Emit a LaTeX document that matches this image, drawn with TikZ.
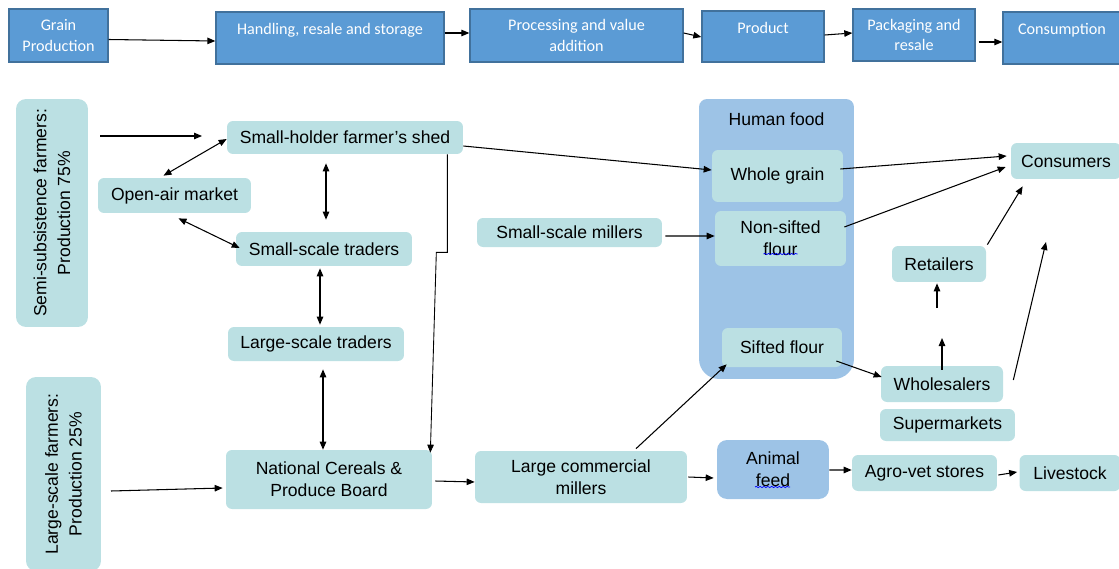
\documentclass[tikz,border=0pt]{standalone}
\usepackage{fontspec}
\setmainfont{Liberation Sans}
\newfontfamily\calibrifont{Carlito}
\usepackage{tikz}
\usetikzlibrary{arrows.meta,calc,decorations.pathmorphing}

\definecolor{topblue}{RGB}{91,155,213}
\definecolor{topedge}{RGB}{65,113,156}
\definecolor{tealbox}{RGB}{187,224,227}
\definecolor{foodblue}{RGB}{157,195,230}

\begin{document}
\begin{tikzpicture}[
  x=0.02cm, y=-0.02cm,
  topbox/.style={draw=topedge, line width=0.8pt, fill=topblue, text=white, align=center, inner sep=0pt, font={\calibrifont\fontsize{9.2}{11.7}\selectfont}},
  oneline/.style={text depth=10pt},
  box/.style={fill=tealbox, rounded corners=0.12cm, align=center, inner sep=0pt, font={\fontsize{10}{12.5}\selectfont}},
  sidebox/.style={box, rotate=90, rounded corners=0.2cm, font={\fontsize{10}{13.5}\selectfont}},
  foodbox/.style={box, fill=foodblue},
  arr/.style={-{Triangle[length=0.16cm,width=0.13cm]}, line width=0.6pt},
  dblarr/.style={{Triangle[length=0.16cm,width=0.13cm]}-{Triangle[length=0.16cm,width=0.13cm]}, line width=0.6pt},
  squiggle/.style={draw=blue, line width=0.4pt, decorate, decoration={snake, amplitude=0.35pt, segment length=2.2pt}}
]
  \useasboundingbox (0,0) rectangle (1119,568);

  % value chain stages
  \node[topbox, minimum width=1.98cm, minimum height=1.06cm] (grain) at (58.5,35.5) {Grain\\Production};
  \node[topbox, oneline, minimum width=4.56cm, minimum height=1.04cm] (handling) at (330,38) {Handling, resale and storage};
  \node[topbox, minimum width=4.26cm, minimum height=1.06cm] (processing) at (576.5,35.5) {Processing and value\\addition};
  \node[topbox, oneline, minimum width=2.44cm, minimum height=1.02cm] (product) at (763,36.5) {Product};
  \node[topbox, minimum width=2.44cm, minimum height=1.04cm] (packaging) at (914,35) {Packaging and\\resale};
  \node[topbox, oneline, minimum width=2.36cm, minimum height=1.04cm] (consumption) at (1062,38) {Consumption};
  \draw[arr] ($(grain.east)+(0,4)$) -- ($(handling.west)+(0,3)$);
  \draw[arr] ($(handling.east)+(0,-5)$) -- ($(processing.west)+(0,-2.5)$);
  \draw[arr] ($(processing.east)+(0,-2.5)$) -- ($(product.west)+(0,0.5)$);
  \draw[arr] ($(product.east)+(0,-1.5)$) -- ($(packaging.west)+(0,-2)$);
  \draw[arr] ($(packaging.east)+(3,7)$) -- ($(consumption.west)+(0,4)$);

  % producers and traders
  \node[sidebox, minimum width=4.56cm, minimum height=1.44cm] (semi) at (52,213) {Semi-subsistence farmers:\\Production 75\%};
  \node[sidebox, minimum width=3.88cm, minimum height=1.5cm] (lfarm) at (63.5,474) {Large-scale farmers:\\Production 25\%};
  \node[box, minimum width=4.72cm, minimum height=0.66cm] (shed) at (345,137.5) {Small-holder farmer's shed};
  \node[box, minimum width=3.06cm, minimum height=0.70cm] (openair) at (174.5,195.5) {Open-air market};
  \node[box, minimum width=3.52cm, minimum height=0.68cm] (sstraders) at (324,249) {Small-scale traders};
  \node[box, minimum width=3.52cm, minimum height=0.68cm] (lstraders) at (316,344) {Large-scale traders};
  \node[box, minimum width=4.12cm, minimum height=1.18cm] (ncpb) at (329,479.5) {National Cereals \&\\Produce Board};

  % millers and products
  \node[box, minimum width=4.24cm, minimum height=1.04cm] (lcmillers) at (581,477) {Large commercial\\millers};
  \node[box, minimum width=3.70cm, minimum height=0.58cm] (ssmillers) at (569.5,232.5) {Small-scale millers};
  \node[foodbox, rounded corners=0.4cm, minimum width=3.10cm, minimum height=5.36cm] (hfbody) at (776.5,245) {};
  \node[foodbox, rounded corners=0.16cm, minimum width=3.10cm, minimum height=0.80cm] (hfhead) at (776.5,119) {Human food};
  \node[box, minimum width=2.62cm, minimum height=1.04cm] (wgrain) at (777.5,176) {Whole grain};
  \node[box, minimum width=2.62cm, minimum height=1.10cm] (nonsifted) at (780.5,238.5) {Non-sifted\\flour};
  \node[box, minimum width=2.40cm, minimum height=0.78cm] (sifted) at (782,347.5) {Sifted flour};
  \node[foodbox, rounded corners=0.2cm, minimum width=2.24cm, minimum height=1.18cm] (afeed) at (773,469.5) {Animal\\feed};
  \draw[squiggle] ($(nonsifted.center)+(-17,15.5)$) -- ++(34,0);
  \draw[squiggle] ($(afeed.center)+(-18,17.5)$) -- ++(35,0);

  % outlets
  \node[box, minimum width=2.20cm, minimum height=0.72cm] (consumers) at (1066,161) {Consumers};
  \node[box, minimum width=1.88cm, minimum height=0.72cm] (retailers) at (939,264) {Retailers};
  \node[box, minimum width=2.44cm, minimum height=0.72cm] (wholesalers) at (942,384) {Wholesalers};
  \node[box, minimum width=2.70cm, minimum height=0.64cm] (supermarkets) at (947.5,425) {Supermarkets};
  \node[box, minimum width=2.90cm, minimum height=0.72cm] (agrovet) at (924.5,473) {Agro-vet stores};
  \node[box, minimum width=2.02cm, minimum height=0.72cm] (livestock) at (1070,473) {Livestock};

  % loose arrow ends
  \coordinate (semiout) at (100,136);
  \coordinate (shedin) at (202,136);
  \coordinate (lfarmout) at (111,491);
  \coordinate (wsup) at (1046,242);
  \coordinate (wsmid) at (942,338);
  \coordinate (rtlow) at (937,308);

  \draw[arr] (semiout) -- (shedin);
  \draw[dblarr] ($(openair.north)+(-11,-2)$) -- ($(shed.west)+(0,1.5)$);
  \draw[dblarr] ($(shed.south)+(-19,9)$) -- ($(sstraders.north)+(2,-12)$);
  \draw[dblarr] ($(openair.south)+(4,5)$) -- ($(sstraders.west)+(4,-1)$);
  \draw[dblarr] ($(sstraders.south)+(-4,2)$) -- ($(lstraders.north)+(4,-2)$);
  \draw[dblarr] ($(lstraders.south)+(7,8)$) -- ($(ncpb.north)+(-6,0)$);
  \draw[arr, line width=0.5pt] ($(shed.south east)+(-16,0)$) -- ++(0,98) -- ++(-11,0) -- ($(ncpb.north east)+(-2,3)$);
  \draw[arr] ($(shed.east)+(0,8.5)$) -- ($(wgrain.west)+(0,-6)$);
  \draw[arr] (lfarmout) -- ($(ncpb.west)+(-3,8.5)$);
  \draw[arr] ($(ncpb.east)+(3,1.5)$) -- ($(lcmillers.west)+(0,5)$);
  \draw[arr] ($(ssmillers.east)+(3,3.5)$) -- ($(nonsifted.west)+(0,-2.5)$);
  \draw[arr] ($(lcmillers.north)+(55,-2)$) -- ($(sifted.south west)+(5,-3)$);
  \draw[arr] ($(lcmillers.east)+(1,0)$) -- ($(afeed.west)+(-3,8.5)$);
  \draw[arr] ($(afeed.east)+(0,0.5)$) -- ($(agrovet.west)+(0,-3)$);
  \draw[arr] ($(agrovet.east)+(1,2)$) -- ($(livestock.west)+(-2,-1)$);
  \draw[arr] ($(wgrain.east)+(-3,-7)$) -- ($(consumers.west)+(-4,-5)$);
  \draw[arr] ($(nonsifted.east)+(-2,-11.5)$) -- ($(consumers.west)+(-5,6)$);
  \draw[arr] ($(sifted.east)+(-6,13.5)$) -- ($(wholesalers.west)+(1,-7)$);
  \draw[arr] ($(wholesalers.north)+(0,4)$) -- (wsmid);
  \draw[arr] (rtlow) -- ($(retailers.south)+(-2,1)$);
  \draw[arr] ($(retailers.north east)+(1,-1)$) -- ($(consumers.south west)+(12,7)$);
  \draw[arr] ($(wholesalers.east)+(10,-4)$) -- (wsup);
\end{tikzpicture}
\end{document}
